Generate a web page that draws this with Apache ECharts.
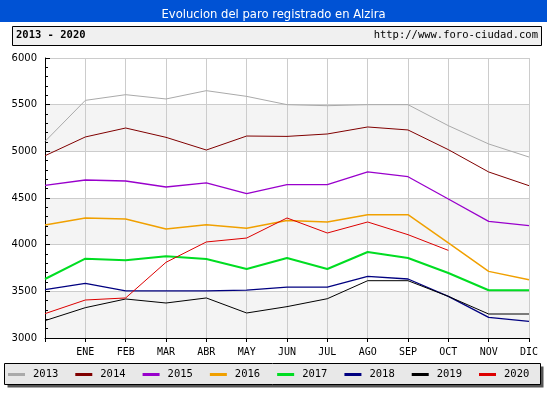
<!DOCTYPE html>
<html><head><meta charset="utf-8">
<script src="https://cdn.jsdelivr.net/npm/echarts@6/dist/echarts.min.js"></script>
<style>html,body{margin:0;padding:0;background:#fff}#c{width:547px;height:393px}</style>
</head><body><div id="c"></div>
<script>
const categories = ['', 'ENE', 'FEB', 'MAR', 'ABR', 'MAY', 'JUN', 'JUL', 'AGO', 'SEP', 'OCT', 'NOV', 'DIC'];
const years = ['2013', '2014', '2015', '2016', '2017', '2018', '2019', '2020'];
const v2013 = [5106, 5546, 5607, 5561, 5650, 5589, 5500, 5489, 5500, 5500, 5275, 5079, 4939];
const v2014 = [4953, 5154, 5250, 5150, 5014, 5164, 5160, 5186, 5261, 5229, 5018, 4779, 4632];
const v2015 = [4635, 4693, 4682, 4618, 4661, 4546, 4643, 4643, 4779, 4728, 4489, 4250, 4203];
const v2016 = [4211, 4286, 4275, 4168, 4214, 4175, 4260, 4243, 4321, 4321, 4018, 3714, 3625];
const v2017 = [3632, 3850, 3832, 3875, 3846, 3739, 3857, 3739, 3921, 3857, 3696, 3512, 3512];
const v2018 = [3518, 3585, 3504, 3504, 3504, 3514, 3546, 3546, 3661, 3632, 3446, 3221, 3179];
const v2019 = [3186, 3325, 3418, 3375, 3429, 3268, 3336, 3421, 3614, 3614, 3446, 3257, 3257];
const v2020 = [3261, 3407, 3429, 3811, 4029, 4071, 4286, 4125, 4243, 4107, 3939];
const yTicks = [3000, 3500, 4000, 4500, 5000, 5500, 6000];

const values = [v2013, v2014, v2015, v2016, v2017, v2018, v2019, v2020];
const colors = ['#aaaaaa', '#800000', '#9900cc', '#f0a000', '#00dd22', '#000080', '#000000', '#dd0000'];
const widths = [1, 1, 1.3, 1.5, 2, 1.3, 1, 1];

const chart = echarts.init(document.getElementById('c'), null, {renderer: 'canvas'});
chart.setOption({
  animation: false,
  backgroundColor: '#ffffff',
  title: {
    text: 'Evolucion del paro registrado en Alzira',
    left: 'center', top: 4,
    textStyle: {color: '#ffffff', fontFamily: 'DejaVu Sans', fontSize: 11.6, fontWeight: 'normal'}
  },
  graphic: [
    {type: 'rect', z: -10, shape: {x: 0, y: 0, width: 547, height: 22}, style: {fill: '#0052d4'}},
    {type: 'rect', z: -10, shape: {x: 12.5, y: 26.5, width: 529, height: 19}, style: {fill: '#f0f0f0', stroke: '#000', lineWidth: 1}},
    {type: 'text', left: 16, top: 30, style: {text: years[0] + ' - ' + years[years.length - 1], fill: '#000', font: 'bold 10.5px "DejaVu Sans Mono"'}},
    {type: 'text', right: 9, top: 30, style: {text: 'http://www.foro-ciudad.com', fill: '#000', font: '10.5px "DejaVu Sans Mono"'}},
    {type: 'rect', z: -10, shape: {x: 7.5, y: 366.5, width: 536, height: 21}, style: {fill: '#555'}},
    {type: 'rect', z: -9, shape: {x: 4.5, y: 363.5, width: 536, height: 21}, style: {fill: '#e8e8e8', stroke: '#000', lineWidth: 1}}
  ],
  legend: {
    left: 8, top: 369, padding: 0,
    itemWidth: 17, itemHeight: 3, itemGap: 17,
    icon: 'rect',
    data: years,
    textStyle: {fontFamily: 'DejaVu Sans Mono', fontSize: 10.5, color: '#000', padding: [0, 0, 0, 3]}
  },
  grid: {left: 45, right: 18, top: 58, bottom: 55},
  xAxis: {
    type: 'category', data: categories, boundaryGap: false,
    axisLine: {lineStyle: {color: '#000'}},
    axisTick: {show: true, inside: false, length: 4, lineStyle: {color: '#000'}, alignWithLabel: true},
    axisLabel: {fontFamily: 'DejaVu Sans Mono', fontSize: 10, color: '#000', margin: 9, interval: 0},
    splitLine: {show: true, lineStyle: {color: '#cccccc'}}
  },
  yAxis: {
    type: 'value', min: yTicks[0], max: yTicks[yTicks.length - 1], interval: 500,
    axisLine: {show: true, lineStyle: {color: '#000'}},
    axisTick: {show: true, inside: true, length: 5, lineStyle: {color: '#000'}},
    minorTick: {show: true, splitNumber: 5, length: 3, lineStyle: {color: '#000'}},
    axisLabel: {fontFamily: 'DejaVu Sans', fontSize: 10, color: '#000', margin: 8, formatter: v => String(v)},
    splitLine: {show: true, lineStyle: {color: '#cccccc'}},
    splitArea: {show: true, areaStyle: {color: ['#f4f4f4', '#ffffff']}}
  },
  series: years.map((y, i) => ({
    name: y, type: 'line', data: values[i], symbol: 'none',
    lineStyle: {color: colors[i], width: widths[i]},
    itemStyle: {color: colors[i]}
  }))
});
</script></body></html>
